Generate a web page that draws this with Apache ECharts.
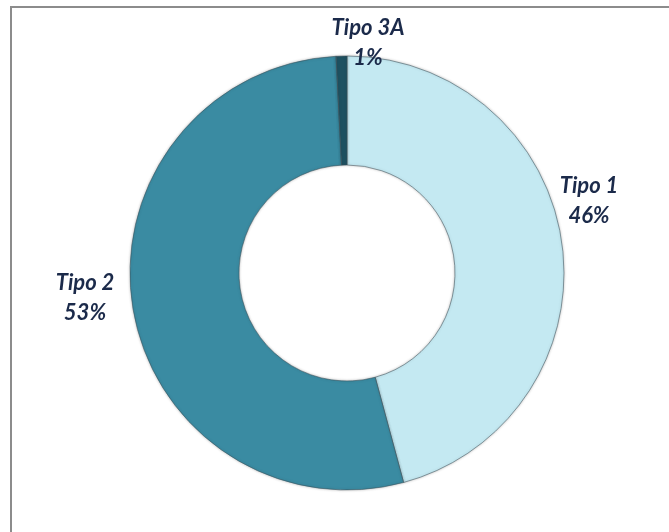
<!DOCTYPE html>
<html>
<head>
<meta charset="utf-8">
<script src="https://cdn.jsdelivr.net/npm/echarts@6/dist/echarts.min.js"></script>
<style>
  html, body { margin: 0; padding: 0; background: #fff; }
  #chart { width: 669px; height: 532px; }
  #frame {
    position: absolute; left: 10px; top: 6px;
    width: 700px; height: 600px;
    border-left: 2px solid #8c8c8c; border-top: 2px solid #8c8c8c;
  }
</style>
</head>
<body>
<div id="frame"></div>
<div id="chart" style="position:absolute;left:0;top:0"></div>
<script>
  const categories = ["Tipo 1", "Tipo 2", "Tipo 3A"];
  const shares = [45.8, 53.4, 0.8];
  const colors = ["#c4e9f2", "#3a8ba2", "#1e5161"];
  // where each label block sits (centre), like Excel's best-fit placement
  const labelSpots = [[589, 201], [85, 298], [368, 43]];

  const chart = echarts.init(document.getElementById("chart"));

  const option = {
    animation: false,
    series: [
      {
        type: "pie",
        center: [347, 273],
        radius: [108, 217],
        startAngle: 90,
        clockwise: true,
        itemStyle: {
          borderColor: "rgba(60,80,90,0.55)",
          borderWidth: 1,
          shadowColor: "rgba(0,0,0,0.25)",
          shadowBlur: 3,
        },
        label: {
          show: true,
          position: "outside",
          formatter: (p) => p.name + "\n" + Math.round(p.value) + "%",
          fontFamily: "Lato",
          fontStyle: "italic",
          fontWeight: "bold",
          fontSize: 22,
          lineHeight: 30,
          color: "#1b2a4a",
        },
        labelLine: { show: false, length: 12, length2: 0 },
        labelLayout: (params) => ({
          x: labelSpots[params.dataIndex][0],
          y: labelSpots[params.dataIndex][1],
          align: "center",
          verticalAlign: "middle",
        }),
        data: categories.map((c, i) => ({
          name: c,
          value: shares[i],
          itemStyle: { color: colors[i] },
        })),
      },
    ],
  };

  chart.setOption(option);
</script>
</body>
</html>
